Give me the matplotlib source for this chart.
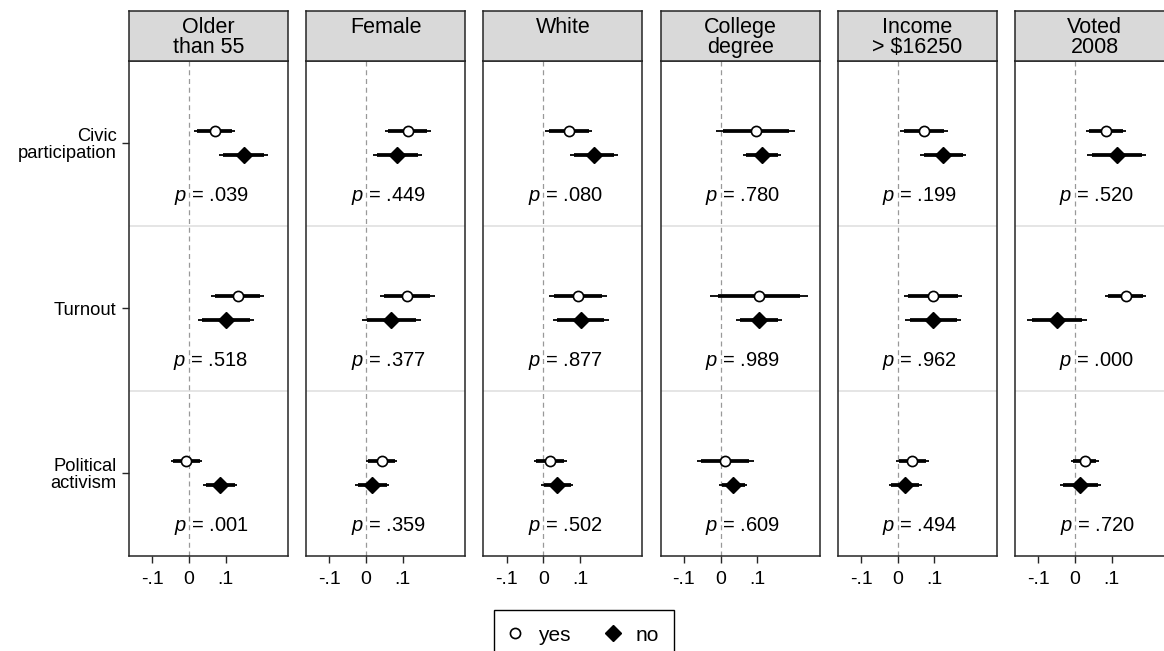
import numpy as np
import matplotlib.pyplot as plt
from matplotlib.lines import Line2D

plt.rcParams['font.family'] = ['Liberation Sans', 'DejaVu Sans']
plt.rcParams['mathtext.fontset'] = 'custom'
plt.rcParams['mathtext.it'] = 'Liberation Sans:italic'
plt.rcParams['mathtext.rm'] = 'Liberation Sans'

# subgroups (panels) and outcomes (rows)
groups = ['Older\nthan 55', 'Female', 'White', 'College\ndegree', 'Income\n> \\$16250', 'Voted\n2008']
outcomes = ['Civic\nparticipation', 'Turnout', 'Political\nactivism']

# estimates and standard errors, one row per panel, one column per outcome
coef_yes = [[0.070, 0.133, -0.007],
            [0.113, 0.112, 0.042],
            [0.069, 0.095, 0.019],
            [0.096, 0.105, 0.013],
            [0.072, 0.096, 0.040],
            [0.085, 0.138, 0.027]]
se_yes = [[0.029, 0.037, 0.022],
          [0.032, 0.038, 0.022],
          [0.033, 0.040, 0.023],
          [0.055, 0.068, 0.040],
          [0.033, 0.041, 0.023],
          [0.028, 0.029, 0.019]]
coef_no = [[0.149, 0.101, 0.085],
           [0.085, 0.069, 0.016],
           [0.138, 0.102, 0.038],
           [0.113, 0.105, 0.034],
           [0.124, 0.097, 0.020],
           [0.114, -0.049, 0.015]]
se_no = [[0.034, 0.039, 0.024],
         [0.034, 0.041, 0.024],
         [0.033, 0.039, 0.022],
         [0.026, 0.032, 0.019],
         [0.032, 0.039, 0.023],
         [0.041, 0.042, 0.029]]
pvals = [['.039', '.518', '.001'],
         ['.449', '.377', '.359'],
         ['.080', '.877', '.502'],
         ['.780', '.989', '.609'],
         ['.199', '.962', '.494'],
         ['.520', '.000', '.720']]

W, H = 1164, 651
fig = plt.figure(figsize=(W / 100, H / 100), dpi=100)

frame_c = '#262626'
off = 0.072
rows = np.arange(len(outcomes))

for i, g in enumerate(groups):
    left = 129 + i * 177.2
    ax = fig.add_axes([left / W, 1 - 555.7 / H, 159 / W, 495 / H])
    hd = fig.add_axes([left / W, 1 - 60.7 / H, 159 / W, 50 / H])

    ax.axvline(0, color='#999999', lw=0.9, ls=(0, (4, 3)), zorder=1)
    for s in [0.5, 1.5]:
        ax.axhline(s, color='#e3e3e3', lw=1.3, zorder=0)

    for y0, c, se, yes in [(rows - off, coef_yes[i], se_yes[i], True),
                           (rows + off, coef_no[i], se_no[i], False)]:
        c = np.array(c)
        se = np.array(se)
        ax.hlines(y0, c - 1.96 * se, c + 1.96 * se, color='black', lw=1.3, zorder=2)
        ax.hlines(y0, c - 1.645 * se, c + 1.645 * se, color='black', lw=2.7, zorder=2)
        if yes:
            ax.plot(c, y0, 'o', ms=7.3, mfc='white', mec='black', mew=1.2, ls='none', zorder=3)
        else:
            ax.plot(c, y0, 'D', ms=7.8, color='black', ls='none', zorder=3)

    for r in rows:
        ax.text(0.06, r + 0.318, '$p$ = ' + pvals[i][r], ha='center', va='center', fontsize=14.5)

    ax.set_xlim(-0.1635, 0.27)
    ax.set_ylim(2.5, -0.5)
    ax.set_xticks([-0.1, 0, 0.1])
    ax.set_xticklabels(['-.1', '0', '.1'])
    ax.tick_params(axis='x', direction='out', length=5, width=1, labelsize=14, pad=6, color=frame_c)
    if i == 0:
        ax.set_yticks(rows)
        ax.set_yticklabels(outcomes, linespacing=1.0)
        ax.tick_params(axis='y', direction='out', length=5, width=1, labelsize=13.2, pad=4, color=frame_c)
    else:
        ax.set_yticks([])
    for sp in ax.spines.values():
        sp.set_color(frame_c)
        sp.set_linewidth(1.1)

    hd.set_facecolor('#d9d9d9')
    hd.set_xticks([])
    hd.set_yticks([])
    for sp in hd.spines.values():
        sp.set_color(frame_c)
        sp.set_linewidth(1.1)
    hd.text(0.5, 0.87, g, ha='center', va='top', fontsize=15.5, linespacing=0.95,
            transform=hd.transAxes)

handles = [Line2D([], [], marker='o', ms=7.3, mfc='white', mec='black', mew=1.2, ls='none'),
           Line2D([], [], marker='D', ms=8.5, color='black', ls='none')]
leg = fig.legend(handles, ['yes', 'no'], loc='upper center', bbox_to_anchor=(584 / W, 1 - 610 / H),
                 ncol=2, fontsize=15, frameon=True, fancybox=False, edgecolor='black',
                 borderpad=0.75, borderaxespad=0, handlelength=0.6, handletextpad=0.8,
                 columnspacing=1.7, framealpha=1)
leg.get_frame().set_linewidth(1.0)

fig.savefig('out.png', dpi=100)
